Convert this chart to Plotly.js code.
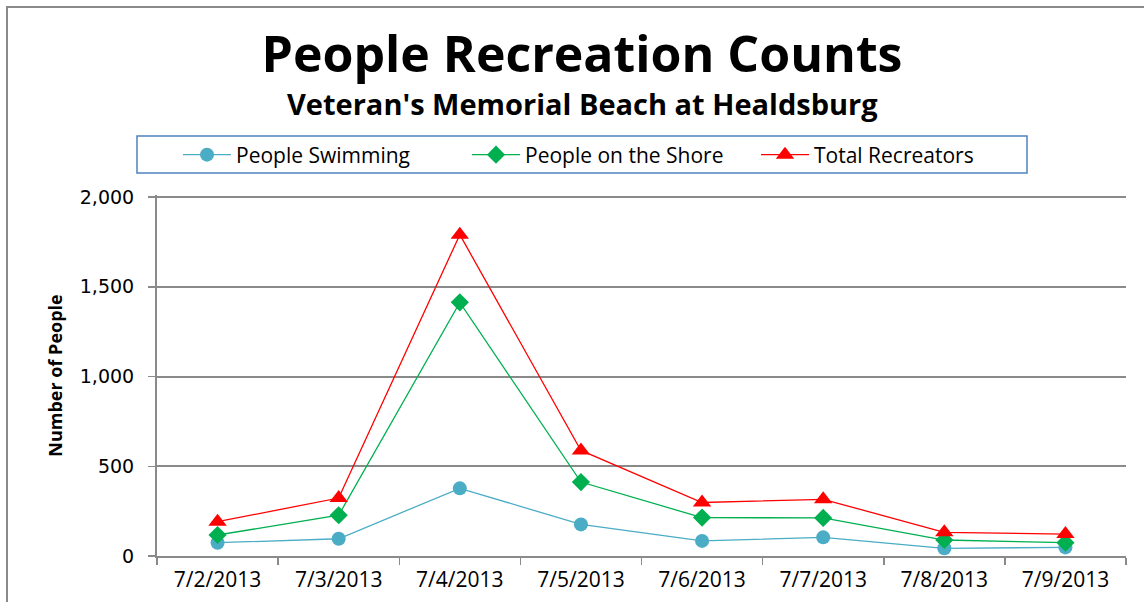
<!DOCTYPE html>
<html>
<head>
<meta charset="utf-8">
<script src="https://cdn.plot.ly/plotly-3.0.1.min.js"></script>
<style>
html,body{margin:0;padding:0;background:#fff;}
#frame{position:absolute;left:6px;top:6px;width:1138px;height:596px;border-left:2px solid #8a8a8a;border-top:2px solid #8a8a8a;box-sizing:border-box;}
#chart{position:absolute;left:0;top:0;width:1144px;height:602px;}
</style>
</head>
<body>
<div id="frame"></div>
<div id="chart"></div>
<script>
const dates = ["7/2/2013","7/3/2013","7/4/2013","7/5/2013","7/6/2013","7/7/2013","7/8/2013","7/9/2013"];
const swimming = [74, 96, 377, 176, 84, 104, 43, 48];
const shore = [117, 227, 1413, 412, 214, 212, 89, 74];
const total = [191, 323, 1790, 588, 298, 316, 132, 122];
const yTicks = [0, 500, 1000, 1500, 2000];

const font = "'Open Sans', Lato, sans-serif";
const traces = [
  {x: dates, y: swimming, name: "People Swimming", type: "scatter", mode: "lines+markers",
   line: {color: "#4BACC6", width: 1.3}, marker: {symbol: "circle", size: 14, color: "#4BACC6"}},
  {x: dates, y: shore, name: "People on the Shore", type: "scatter", mode: "lines+markers",
   line: {color: "#00B050", width: 1.3}, marker: {symbol: "diamond", size: 14, color: "#00B050"}},
  {x: dates, y: total, name: "Total Recreators", type: "scatter", mode: "lines+markers",
   line: {color: "#FF0000", width: 1.3}, marker: {symbol: "triangle-up", size: 16, color: "#FF0000"}}
];

const T = 195, B = 46, L = 157, R = 18;
const W = 1144 - L - R, H = 602 - T - B;
const layout = {
  width: 1144, height: 602,
  paper_bgcolor: "rgba(0,0,0,0)", plot_bgcolor: "rgba(0,0,0,0)",
  margin: {l: L, r: R, t: T, b: B},
  font: {family: font, color: "#000"},
  title: {text: "<b>People Recreation Counts</b>", font: {family: font, size: 50, color: "#000"},
          x: (582 - L) / W, xanchor: "center", xref: "paper", y: 0.91, yanchor: "middle"},
  annotations: [{
    text: "<b>Veteran's Memorial Beach at Healdsburg</b>", xref: "paper", yref: "paper",
    x: (582 - L) / W, xanchor: "center", y: (556 - 103) / H, yanchor: "middle", showarrow: false,
    font: {family: font, size: 29, color: "#000"}
  }],
  shapes: [{type: "rect", xref: "paper", yref: "paper",
            x0: (137 - L) / W, x1: (1027 - L) / W, y0: (556 - 173) / H, y1: (556 - 136) / H,
            line: {color: "#4F81BD", width: 1.5}, fillcolor: "rgba(0,0,0,0)"}],
  showlegend: true,
  legend: {orientation: "h", x: (178 - L) / W, xanchor: "left", y: (556 - 155) / H, yanchor: "middle",
           borderwidth: 0, bgcolor: "rgba(0,0,0,0)",
           font: {family: font, size: 21, color: "#000"}, entrywidth: 226, itemwidth: 48},
  xaxis: {type: "category", range: [-0.5, 7.5], tickson: "boundaries", ticks: "outside",
          ticklen: 7, tickcolor: "#8a8a8a", tickwidth: 1.5, showline: true, linecolor: "#8a8a8a",
          linewidth: 2, showgrid: false, ticklabelstandoff: 4,
          tickfont: {family: font, size: 21, color: "#000"}, fixedrange: true},
  yaxis: {range: [0, 2000 * (H / 359)], tickvals: yTicks, tickformat: ",d", ticks: "outside", ticklen: 7,
          tickcolor: "#8a8a8a", tickwidth: 1.5, showline: true, linecolor: "#8a8a8a", linewidth: 2,
          showgrid: true, gridcolor: "#8a8a8a", gridwidth: 2, zeroline: false, ticklabelstandoff: 10,
          tickfont: {family: "'DejaVu Sans', sans-serif", size: 19, color: "#000"},
          title: {text: "<b>Number of People</b>", font: {family: font, size: 18, color: "#000"}, standoff: 12}}
};

Plotly.newPlot("chart", traces, layout, {displayModeBar: false, staticPlot: true});
</script>
</body>
</html>
